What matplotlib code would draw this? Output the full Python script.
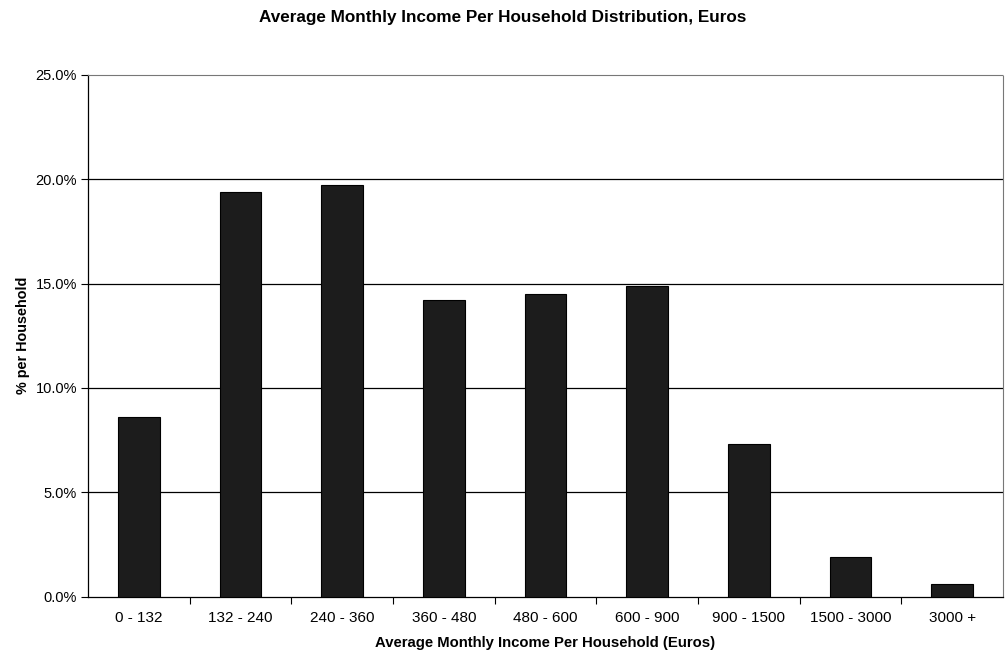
import matplotlib.pyplot as plt
from matplotlib.ticker import FuncFormatter

plt.rcParams['font.family'] = ['Liberation Sans', 'DejaVu Sans']

# Income bands and share of households (%)
income_bands = ['0 - 132', '132 - 240', '240 - 360', '360 - 480', '480 - 600',
                '600 - 900', '900 - 1500', '1500 - 3000', '3000 +']
household_pct = [8.6, 19.4, 19.7, 14.2, 14.5, 14.9, 7.3, 1.9, 0.6]
y_ticks = [0, 5, 10, 15, 20, 25]

fig = plt.figure(figsize=(10.05, 6.5), dpi=100)
ax = fig.add_axes([0.0876, 0.082, 0.9104, 0.803])

x = range(len(income_bands))
ax.bar(x, household_pct, width=0.41, color='#1c1c1c', edgecolor='black', linewidth=0.8, zorder=3)

ax.set_xlim(-0.5, len(income_bands) - 0.5)
ax.set_ylim(0, 25)
ax.set_yticks(y_ticks)
ax.yaxis.set_major_formatter(FuncFormatter(lambda v, p: f'{v:.1f}%'))

# category labels centred under bars, tick marks between categories
ax.set_xticks([i + 0.5 for i in range(len(income_bands) - 1)])
ax.set_xticklabels([])
ax.set_xticks(list(x), minor=True)
ax.set_xticklabels(income_bands, minor=True)
ax.tick_params(axis='x', which='minor', length=0, pad=10, labelsize=11)
ax.tick_params(axis='x', which='major', length=5, direction='out', width=0.8)
ax.tick_params(axis='y', length=5, direction='out', width=0.8, labelsize=10.5, pad=3)

# horizontal gridlines
for t in y_ticks[1:-1]:
    ax.axhline(t, color='black', linewidth=0.9, zorder=1)

for side in ['top', 'right']:
    ax.spines[side].set_linestyle((0, (1, 1)))
    ax.spines[side].set_color('#777777')
    ax.spines[side].set_linewidth(0.8)
ax.spines['left'].set_linewidth(0.9)
ax.spines['bottom'].set_linewidth(0.9)

ax.set_xlabel('Average Monthly Income Per Household (Euros)', fontsize=10.7, fontweight='bold', labelpad=8)
ax.set_ylabel('% per Household', fontsize=10.4, fontweight='bold', labelpad=4)
fig.suptitle('Average Monthly Income Per Household Distribution, Euros',
             fontsize=12.3, fontweight='bold', y=0.985)

fig.savefig('out.png', dpi=100)
